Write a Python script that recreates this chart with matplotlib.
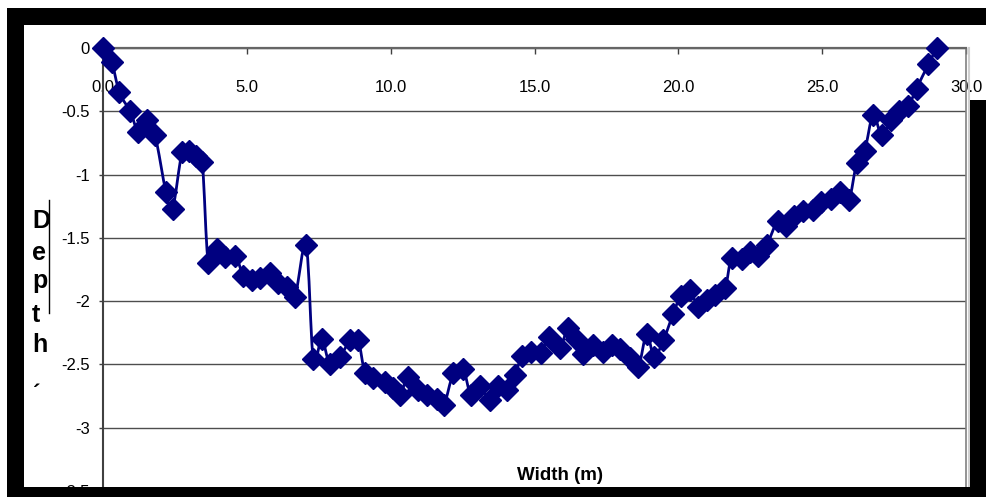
import matplotlib.pyplot as plt
import numpy as np
from matplotlib.path import Path
from matplotlib.patches import PathPatch, Rectangle
from matplotlib.lines import Line2D

plt.rcParams['font.family'] = ['Liberation Sans', 'DejaVu Sans']

# cross-section survey: distance across the channel and bed depth
width_m = [0.00, 0.30, 0.57, 0.94, 1.23, 1.52, 1.81, 2.19, 2.42, 2.75,
           3.00, 3.23, 3.45, 3.66, 3.95, 4.24, 4.60, 4.88, 5.17, 5.46,
           5.80, 6.09, 6.38, 6.67, 7.06, 7.31, 7.60, 7.89, 8.24, 8.59,
           8.87, 9.11, 9.40, 9.80, 10.09, 10.32, 10.61, 10.96, 11.25, 11.60,
           11.85, 12.18, 12.52, 12.79, 13.10, 13.45, 13.74, 14.03, 14.32, 14.58,
           14.87, 15.22, 15.51, 15.88, 16.17, 16.46, 16.70, 17.02, 17.39, 17.68,
           17.97, 18.32, 18.61, 18.90, 19.16, 19.48, 19.82, 20.08, 20.40, 20.69,
           20.98, 21.27, 21.62, 21.85, 22.20, 22.49, 22.78, 23.07, 23.45, 23.74,
           24.02, 24.34, 24.69, 24.95, 25.30, 25.62, 25.93, 26.20, 26.48, 26.77,
           27.07, 27.38, 27.67, 27.99, 28.28, 28.69, 28.98]
depth_m = [0.00, -0.11, -0.35, -0.50, -0.66, -0.57, -0.69, -1.14, -1.27, -0.82,
           -0.81, -0.85, -0.90, -1.70, -1.59, -1.65, -1.64, -1.80, -1.83, -1.82,
           -1.78, -1.86, -1.89, -1.97, -1.56, -2.46, -2.30, -2.50, -2.44, -2.31,
           -2.31, -2.57, -2.61, -2.64, -2.69, -2.74, -2.60, -2.70, -2.74, -2.77,
           -2.82, -2.57, -2.54, -2.74, -2.67, -2.78, -2.67, -2.70, -2.58, -2.43,
           -2.40, -2.41, -2.28, -2.37, -2.21, -2.30, -2.42, -2.35, -2.40, -2.35,
           -2.38, -2.45, -2.52, -2.26, -2.44, -2.31, -2.10, -1.96, -1.91, -2.05,
           -1.99, -1.95, -1.90, -1.66, -1.67, -1.61, -1.64, -1.56, -1.37, -1.41,
           -1.33, -1.29, -1.28, -1.22, -1.19, -1.14, -1.20, -0.91, -0.81, -0.53,
           -0.69, -0.57, -0.50, -0.46, -0.32, -0.13, 0.00]

x_ticks = [0, 5, 10, 15, 20, 25, 30]
x_labels = ['0.0', '5.0', '10.0', '15.0', '20.0', '25.0', '30.0']
y_ticks = [-3.5, -3, -2.5, -2, -1.5, -1, -0.5, 0]
y_labels = ['-3.5', '-3', '-2.5', '-2', '-1.5', '-1', '-0.5', '0']

W, H = 986, 497
navy = '#000080'


def fx(px):
    return px / W


def fy(py):
    return 1 - py / H


fig = plt.figure(figsize=(W / 100, H / 100), dpi=100)
ax = fig.add_axes([fx(103), fy(491), 863 / W, 443 / H])
ax.set_xlim(0, 30)
ax.set_ylim(-3.5, 0)

# smoothed line through the points (cubic bezier segments)
pts = np.column_stack([width_m, depth_m])
n = len(pts)
verts = [pts[0]]
codes = [Path.MOVETO]
for i in range(n - 1):
    prev_p = pts[i - 1] if i > 0 else pts[i]
    next_p = pts[i + 2] if i + 2 < n else pts[i + 1]
    c1 = pts[i] + (pts[i + 1] - prev_p) / 6
    c2 = pts[i + 1] - (next_p - pts[i]) / 6
    verts += [c1, c2, pts[i + 1]]
    codes += [Path.CURVE4] * 3
ax.add_patch(PathPatch(Path(verts, codes), facecolor='none', edgecolor=navy,
                       lw=2, zorder=3, clip_on=False))
ax.plot(width_m, depth_m, linestyle='none', marker='D', ms=11, mfc=navy,
        mec=navy, mew=1, zorder=4, clip_on=False)

ax.set_xticks(x_ticks)
ax.set_xticklabels(x_labels)
ax.set_yticks(y_ticks)
ax.set_yticklabels(y_labels)
ax.xaxis.set_ticks_position('top')
ax.tick_params(axis='x', direction='in', length=4, width=1, color='#404040',
               pad=-34, labelsize=12)
ax.tick_params(axis='y', direction='out', length=3, width=1, color='#404040',
               pad=6.4, labelsize=12)
ax.yaxis.grid(True, color='#4d4d4d', lw=1)
ax.set_axisbelow(True)

ax.spines['bottom'].set_visible(False)
ax.spines['top'].set_color('#666666')
ax.spines['top'].set_linewidth(1.6)
ax.spines['left'].set_color('#404040')
ax.spines['left'].set_linewidth(1.5)
ax.spines['right'].set_color('#808080')
ax.spines['right'].set_linewidth(1.2)
fig.add_artist(Line2D([fx(968.5), fx(968.5)], [fy(48), fy(487)], color='#d0d0d0',
                      lw=1.5, transform=fig.transFigure))

# vertical stacked axis title
for ch, base in zip(['D', 'e', 'p', 't', 'h'], [228, 260, 288, 322, 352]):
    fig.text(fx(32), fy(base), ch, fontsize=18, fontweight='bold',
             ha='left', va='baseline')
fig.text(fx(33), fy(400), '\u00b4', fontsize=16, fontweight='bold',
         ha='left', va='baseline')
fig.add_artist(Line2D([fx(48.5), fx(48.5)], [fy(200), fy(313)], color='black',
                      lw=1, transform=fig.transFigure))

fig.text(fx(560), fy(480), 'Width (m)', fontsize=13.5, fontweight='bold',
         ha='center', va='baseline')

# dark frame round the chart
for x0, y0, x1, y1 in [(7, 8, 986, 25), (7, 8, 24, 497),
                       (7, 487, 986, 497), (970, 100, 986, 497)]:
    fig.add_artist(Rectangle((fx(x0), fy(y1)), (x1 - x0) / W, (y1 - y0) / H,
                             facecolor='black', edgecolor='none', zorder=10,
                             transform=fig.transFigure))

fig.savefig('out.png', dpi=100, facecolor='white')
